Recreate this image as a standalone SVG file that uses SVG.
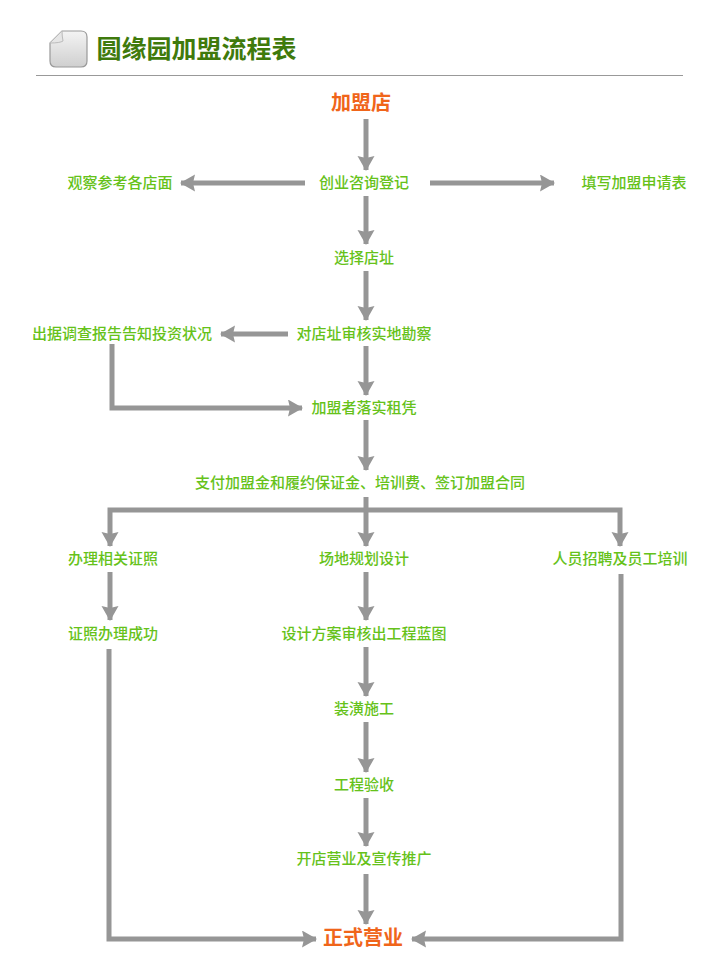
<svg xmlns="http://www.w3.org/2000/svg" width="720" height="956" viewBox="0 0 720 956">
<defs>
<linearGradient id="pg" x1="0" y1="0" x2="0" y2="1"><stop offset="0" stop-color="#f4f4f4"/><stop offset="1" stop-color="#cfcfcf"/></linearGradient>
<marker id="ah" markerUnits="userSpaceOnUse" markerWidth="15" markerHeight="18" refX="14" refY="8.5" orient="auto"><path d="M0 0L15 8.5L0 17L2 8.5Z" fill="#969696"/></marker>
</defs>
<style>
text{font-family:"Noto Sans CJK SC","Noto Sans",sans-serif;text-anchor:middle}
.n{font-size:15px;fill:#66c21a;font-weight:500}
.o{fill:#f0651a;font-weight:700;font-size:20px}
.c{fill:none;stroke:#969696;stroke-width:5;marker-end:url(#ah)}
</style>
<rect width="720" height="956" fill="#fff"/>
<g id="header">
<path d="M62 31H81Q87 31 87 37V61Q87 67 81 67H56Q50 67 50 61V43Z" fill="url(#pg)" stroke="#999" stroke-width="1.2"/>
<path d="M62 31L50 43Q60 43 63 41Q62 36 62 31Z" fill="#e6e6e6" stroke="#bbb"/>
<text x="196.500" y="58" style="font-size:25px;font-weight:700;fill:#3f7a0c">圆缘园加盟流程表</text>
<rect x="36" y="75" width="647" height="1" fill="#999"/>
</g>
<g id="connectors">
<path class="c" d="M366 119V170"/>
<path class="c" d="M305 183H181"/>
<path class="c" d="M430 183H554"/>
<path class="c" d="M366 196V244"/>
<path class="c" d="M366 271V320"/>
<path class="c" d="M288 334H221"/>
<path class="c" d="M112 344V408H302"/>
<path class="c" d="M366 346V395"/>
<path class="c" d="M366 420V470"/>
<path class="c" d="M366 497V546"/>
<path class="c" d="M366 510H110V546"/>
<path class="c" d="M366 510H620V546"/>
<path class="c" d="M110 572V620"/>
<path class="c" d="M366 572V620"/>
<path class="c" d="M366 647V696"/>
<path class="c" d="M366 722V772"/>
<path class="c" d="M366 798V846"/>
<path class="c" d="M366 874V924"/>
<path class="c" d="M109 649V939H316"/>
<path class="c" d="M621 574V939H412"/>
</g>
<g id="n1"><text class="o" x="361" y="110">加盟店</text></g>
<g id="n2"><text class="n" x="364" y="188">创业咨询登记</text></g>
<g id="n3"><text class="n" x="120" y="188">观察参考各店面</text></g>
<g id="n4"><text class="n" x="634" y="188">填写加盟申请表</text></g>
<g id="n5"><text class="n" x="364" y="263">选择店址</text></g>
<g id="n6"><text class="n" x="364" y="339">对店址审核实地勘察</text></g>
<g id="n7"><text class="n" x="122" y="339">出据调查报告告知投资状况</text></g>
<g id="n8"><text class="n" x="364" y="413">加盟者落实租凭</text></g>
<g id="n9"><text class="n" x="360" y="488">支付加盟金和履约保证金、培训费、签订加盟合同</text></g>
<g id="n10"><text class="n" x="113" y="564">办理相关证照</text></g>
<g id="n11"><text class="n" x="364" y="564">场地规划设计</text></g>
<g id="n12"><text class="n" x="620" y="564">人员招聘及员工培训</text></g>
<g id="n13"><text class="n" x="113" y="639">证照办理成功</text></g>
<g id="n14"><text class="n" x="364" y="639">设计方案审核出工程蓝图</text></g>
<g id="n15"><text class="n" x="364" y="714">装潢施工</text></g>
<g id="n16"><text class="n" x="364" y="790">工程验收</text></g>
<g id="n17"><text class="n" x="364" y="864">开店营业及宣传推广</text></g>
<g id="n18"><text class="o" x="363" y="945">正式营业</text></g>
</svg>
